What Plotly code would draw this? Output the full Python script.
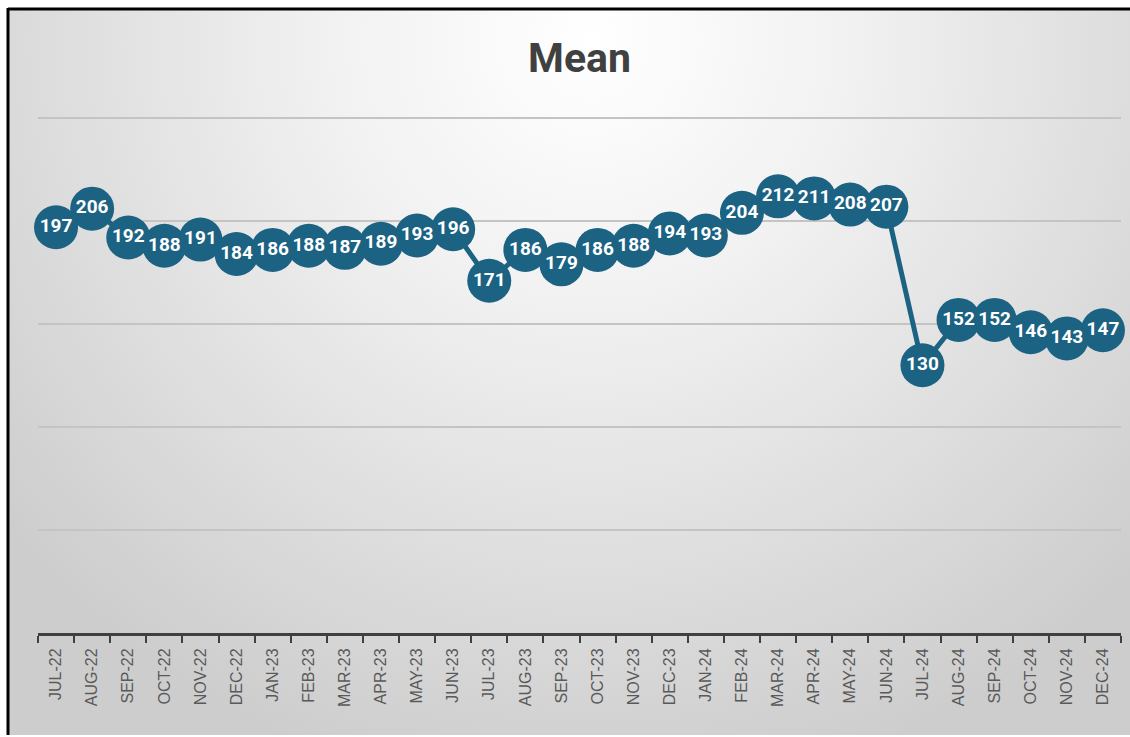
import plotly.graph_objects as go
import urllib.parse

months = ["JUL-22", "AUG-22", "SEP-22", "OCT-22", "NOV-22", "DEC-22",
          "JAN-23", "FEB-23", "MAR-23", "APR-23", "MAY-23", "JUN-23",
          "JUL-23", "AUG-23", "SEP-23", "OCT-23", "NOV-23", "DEC-23",
          "JAN-24", "FEB-24", "MAR-24", "APR-24", "MAY-24", "JUN-24",
          "JUL-24", "AUG-24", "SEP-24", "OCT-24", "NOV-24", "DEC-24"]
mean_values = [197, 206, 192, 188, 191, 184, 186, 188, 187, 189, 193, 196,
               171, 186, 179, 186, 188, 194, 193, 204, 212, 211, 208, 207,
               130, 152, 152, 146, 143, 147]
grid_values = [50, 100, 150, 200, 250]

W, H = 1130, 737
ML, MR, MT, MB = 38, 9, 116, 104
PW, PH = W - ML - MR, H - MT - MB

svg = f'''<svg xmlns="http://www.w3.org/2000/svg" width="{W}" height="{H}" viewBox="0 0 {W} {H}" preserveAspectRatio="none">
<defs><radialGradient id="g" cx="590" cy="40" r="760" gradientUnits="userSpaceOnUse">
<stop offset="0" stop-color="#ffffff"/><stop offset="0.35" stop-color="#f1f1f1"/><stop offset="1" stop-color="#cdcdcd"/></radialGradient></defs>
<rect x="0" y="0" width="{W}" height="{H}" fill="#ffffff"/>
<rect x="9" y="10" width="{W-9}" height="{H-12}" fill="url(#g)"/>
<line x1="8" y1="9" x2="{W}" y2="9" stroke="#000000" stroke-width="3"/>
<line x1="8" y1="8" x2="8" y2="{H-2}" stroke="#000000" stroke-width="3"/>
</svg>'''
src = "data:image/svg+xml;charset=utf-8," + urllib.parse.quote(svg)

fig = go.Figure()
fig.add_trace(go.Scatter(
    x=months, y=mean_values,
    mode="lines+markers+text",
    line=dict(color="#1b6283", width=5),
    marker=dict(color="#1b6283", size=44, line=dict(width=0)),
    text=[str(v) for v in mean_values],
    textposition="middle center",
    textfont=dict(family="Roboto", size=19, color="#ffffff", weight="bold"),
    cliponaxis=False,
    hoverinfo="skip",
))

fig.update_layout(
    width=W, height=H,
    margin=dict(l=ML, r=MR, t=MT, b=MB),
    paper_bgcolor="#ffffff",
    plot_bgcolor="rgba(0,0,0,0)",
    showlegend=False,
    title=dict(text="<b>Mean</b>", x=0.5, xanchor="center",
               y=1 - 58 / H, yanchor="middle", xref="paper", yref="container",
               font=dict(family="Roboto", size=41, color="#404040")),
    images=[dict(source=src, xref="paper", yref="paper",
                 x=-ML / PW, y=1 + MT / PH, sizex=W / PW, sizey=H / PH,
                 sizing="stretch", xanchor="left", yanchor="top", layer="below")],
    xaxis=dict(
        type="category",
        tickson="boundaries",
        ticks="outside", ticklen=7, tickwidth=2, tickcolor="#404040",
        showline=True, linecolor="#404040", linewidth=3,
        showgrid=False, tickangle=-90, ticklabelstandoff=6,
        tickfont=dict(family="Liberation Sans Narrow, Liberation Sans", size=16, color="#595959"),
        range=[-0.5, len(months) - 0.5],
        fixedrange=True,
    ),
    yaxis=dict(
        range=[0, 251], tickvals=grid_values,
        showticklabels=False, showgrid=True, gridcolor="#c4c4c4", gridwidth=2,
        zeroline=False, showline=False, ticks="",
        fixedrange=True,
    ),
)

fig.write_html("out.html")
